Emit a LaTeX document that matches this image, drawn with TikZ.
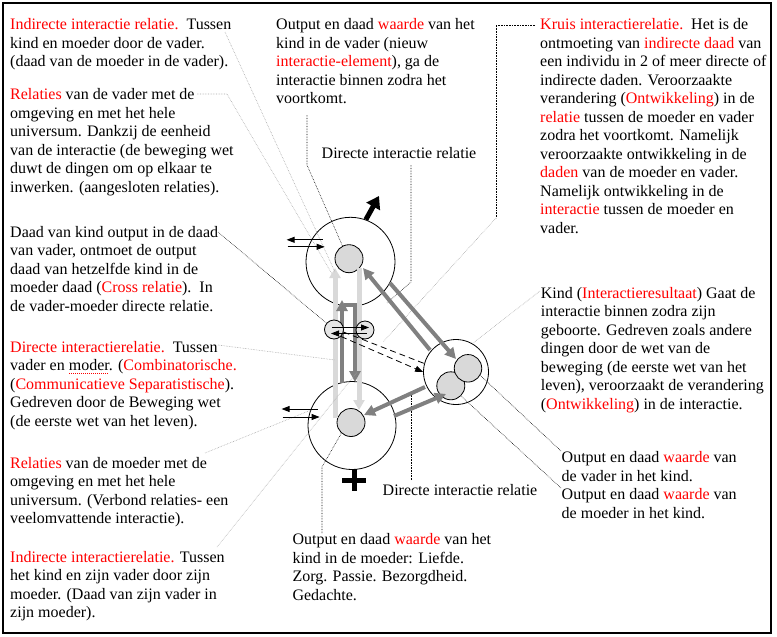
\documentclass[tikz,border=0pt]{standalone}
\usepackage{fontspec}
\setmainfont{Liberation Serif}
\usetikzlibrary{arrows.meta}
\newcommand{\rood}[1]{\textcolor{red}{#1}}
\newsavebox{\spelbox}
\newcommand{\spelfout}[1]{\sbox{\spelbox}{#1}\rlap{\color{red}\raisebox{-3pt}{\hbox to\wd\spelbox{\leaders\hbox to 2pt{\hss\rule{1pt}{0.8pt}\hss}\hfill}}}#1}

\begin{document}
\begin{tikzpicture}[
  x=1pt, y=-1pt,
  txt/.style={anchor=north west, align=left, inner sep=0pt, font=\fontsize{16}{18.5}\selectfont},
  ring/.style={draw, circle, inner sep=0pt, line width=0.8pt},
  kern/.style={draw, circle, inner sep=0pt, fill=gray!30, minimum size=28pt, line width=0.8pt},
  klein/.style={draw, circle, inner sep=0pt, fill=gray!20, minimum size=19pt, line width=0.8pt},
  lead/.style={densely dotted, line width=0.6pt},
  leadgrijs/.style={lead, gray!70},
  licht/.style={-{Triangle[width=11pt,length=10pt]}, line width=5pt, gray!30},
  donker/.style={-{Triangle[width=11pt,length=11pt]}, line width=4pt, gray, line join=miter},
  pijltje/.style={-{Triangle[width=6pt,length=8pt]}, line width=0.8pt},
  stippel/.style={dash pattern=on 6pt off 4pt, line width=0.8pt}
]
\useasboundingbox (0,0) rectangle (777,637);
\draw[line width=1.2pt] (3,3) rectangle (771,633);

\node[txt] (indvader) at (10,16.5) {\strut\rood{Indirecte interactie relatie.}\ \ Tussen\\kind en moeder door de vader.\\(daad van de moeder in de vader).};
\node[txt] (relvader) at (10,86.8) {\strut\rood{Relaties} van de vader met de\\omgeving en met het hele\\universum. Dankzij de eenheid\\van de interactie (de beweging wet\\duwt de dingen om op elkaar te\\inwerken. (aangesloten relaties).};
\node[txt] (daadkind) at (10,224.2) {\strut Daad van kind output in de daad\\van vader, ontmoet de output\\daad van hetzelfde kind in de\\moeder daad (\rood{Cross relatie}).\ \ In\\de vader-moeder directe relatie.};
\node[txt] (dirrel) at (10,339.2) {\strut\rood{Directe interactierelatie.}\ \ Tussen\\vader en \spelfout{moder}. (\rood{Combinatorische.}\\(\rood{Communicatieve Separatistische}).\\Gedreven door de Beweging wet\\(de eerste wet van het leven).};
\node[txt] (relmoeder) at (10,455.2) {\strut\rood{Relaties} van de moeder met de\\omgeving en met het hele\\universum. (Verbond relaties- een\\veelomvattende interactie).};
\node[txt] (indmoeder) at (10,549.2) {\strut\rood{Indirecte interactierelatie.} Tussen\\het kind en zijn vader door zijn\\moeder. (Daad van zijn vader in\\zijn moeder).};
\node[txt] (outvader) at (276,16.5) {\strut Output en daad \rood{waarde} van het\\kind in de vader (nieuw\\\rood{interactie-element}),\ ga de\\interactie binnen zodra het\\voortkomt.};
\node[txt] (dirboven) at (321.5,145.8) {\strut Directe interactie relatie};
\node[txt] (kruis) at (540,16.5) {\strut\rood{Kruis interactierelatie.}\ \ Het is de\\ontmoeting van \rood{indirecte daad} van\\een individu in 2 of meer directe of\\indirecte daden. Veroorzaakte\\verandering (\rood{Ontwikkeling}) in de\\\rood{relatie} tussen de moeder en vader\\zodra het voortkomt. Namelijk\\veroorzaakte ontwikkeling in de\\\rood{daden} van de moeder en vader.\\Namelijk ontwikkeling in de\\\rood{interactie} tussen de moeder en\\vader.};
\node[txt] (kindtekst) at (540.7,285.2) {\strut Kind (\rood{Interactieresultaat}) Gaat de\\interactie binnen zodra zijn\\geboorte. Gedreven zoals andere\\dingen door de wet van de\\beweging (de eerste wet van het\\leven), veroorzaakt de verandering\\(\rood{Ontwikkeling}) in de interactie.};
\node[txt] (outvk) at (561.5,449.8) {\strut Output en daad \rood{waarde} van\\de vader in het kind.};
\node[txt] (outmk) at (561.5,486.5) {\strut Output en daad \rood{waarde} van\\de moeder in het kind.};
\node[txt] (dironder) at (382.5,482.5) {\strut Directe interactie relatie};
\node[txt] (outmoeder) at (292.3,531.5) {\strut Output en daad \rood{waarde} van het\\kind in de moeder: Liefde.\\Zorg. Passie. Bezorgdheid.\\Gedachte.};

\node[ring, minimum size=89pt] (vader) at (350.5,261.8) {};
\node[ring, minimum size=88pt] (moeder) at (352,425.5) {};
\node[ring, minimum size=65pt] (kind) at (456,372) {};
\node[kern] (vaderkern) at (349,258.7) {};
\node[kern] (moederkern) at (351,422.5) {};
\node[kern] (kindb) at (450.8,385.8) {};
\node[kern, minimum size=27.5pt] (kinda) at (468,368.3) {};

\draw[licht] (335,418) coordinate (lo) -- (335,268) coordinate (lb);
\draw[licht] (359,268) coordinate (rb) -- (359,410) coordinate (ro);
\draw[donker] (342,383) coordinate (dlo) -- (342,300) coordinate (dlb);
\draw[donker] (344,305) coordinate (drb) -| (355,382) coordinate (dro);

\node[klein] (kruisl) at (334,329.5) {};
\node[klein, minimum size=18pt] (kruisr) at (365,330) {};

\coordinate (la0) at (225,32);
\coordinate (la1) at (335,272);
\coordinate (lb0) at (197,94);
\coordinate (lb1) at (227,94);
\coordinate (lb2) at (332,274);
\coordinate (lc0) at (218,232);
\coordinate (ld0) at (218,345);
\coordinate (ld1) at (335,360);
\coordinate (le0) at (205,453);
\coordinate (lf0) at (217,547);
\coordinate (lf1) at (357,372);
\coordinate (lg0) at (307,115);
\coordinate (lg1) at (307,165);
\coordinate (lh0) at (411,165);
\coordinate (lh1) at (411,282);
\coordinate (lh2) at (387,303);
\coordinate (li0) at (535,25);
\coordinate (li1) at (496,25);
\coordinate (li2) at (496,218);
\coordinate (li3) at (383,342);
\coordinate (lj0) at (540,291);
\coordinate (lk0) at (561,451);
\coordinate (ll0) at (561,488);
\coordinate (lm0) at (411,480);
\coordinate (lm1) at (411,393);
\coordinate (ln0) at (322,533);
\coordinate (ln1) at (322,467);

\draw[leadgrijs] (la0) -- (la1);
\draw[leadgrijs] (lb0) -- (lb1) -- (lb2);
\draw[lead] (lc0) -- (kruisl.140);
\draw[leadgrijs] (ld0) -- (ld1);
\draw[leadgrijs] (le0) -- (moeder.160);
\draw[leadgrijs] (lf0) -- (lf1);
\draw[lead] (lg0) -- (lg1) -- (vaderkern.117);
\draw[lead] (lh0) -- (lh1) -- (lh2);
\draw[lead] (li0) -- (li1) -- (li2);
\draw[leadgrijs] (li2) -- (li3);
\draw[leadgrijs] (lj0) -- (kind.60);
\draw[lead] (lk0) -- (kinda.-30);
\draw[lead] (ll0) -- (kindb.-45);
\draw[lead] (lm0) -- (lm1);
\draw[lead] (ln0) -- (ln1) -- (moederkern.228);

\draw[donker] (430,350) coordinate (kv0) -- (363,268) coordinate (kv1);
\draw[donker] (390,283) coordinate (vk0) -- (456,359) coordinate (vk1);
\draw[donker] (425,387) coordinate (km0) -- (364,415) coordinate (km1);
\draw[donker] (394,416) coordinate (mk0) -- (446,394) coordinate (mk1);

\draw[stippel] (kruisl.-15) -- (kind.165);
\draw[stippel, -{Triangle[width=6pt,length=8pt]}] (kruisl.-45) -- (kind.west);

\draw[pijltje] (vader.west) ++(17,-22) -- ++(-36,0);
\draw[pijltje] (vader.west) ++(-18,-15) -- ++(37,0);
\draw[pijltje] (moeder.west) ++(10,-16.5) -- ++(-36,0);
\draw[pijltje] (moeder.west) ++(-25,-8.5) -- ++(37,0);
\draw[pijltje] (kruisl.center) ++(-2,-2) -- ++(37,0);
\draw[pijltje] (kruisr.center) ++(2,3.5) -- ++(-36,0);

\draw[-{Triangle[width=15pt,length=12pt]}, line width=5pt] (vader.70) -- (379,196) coordinate (vt);
\draw[line width=5pt] (342,480) -- (366,480) (354,469) -- (354,491);
\end{tikzpicture}
\end{document}
